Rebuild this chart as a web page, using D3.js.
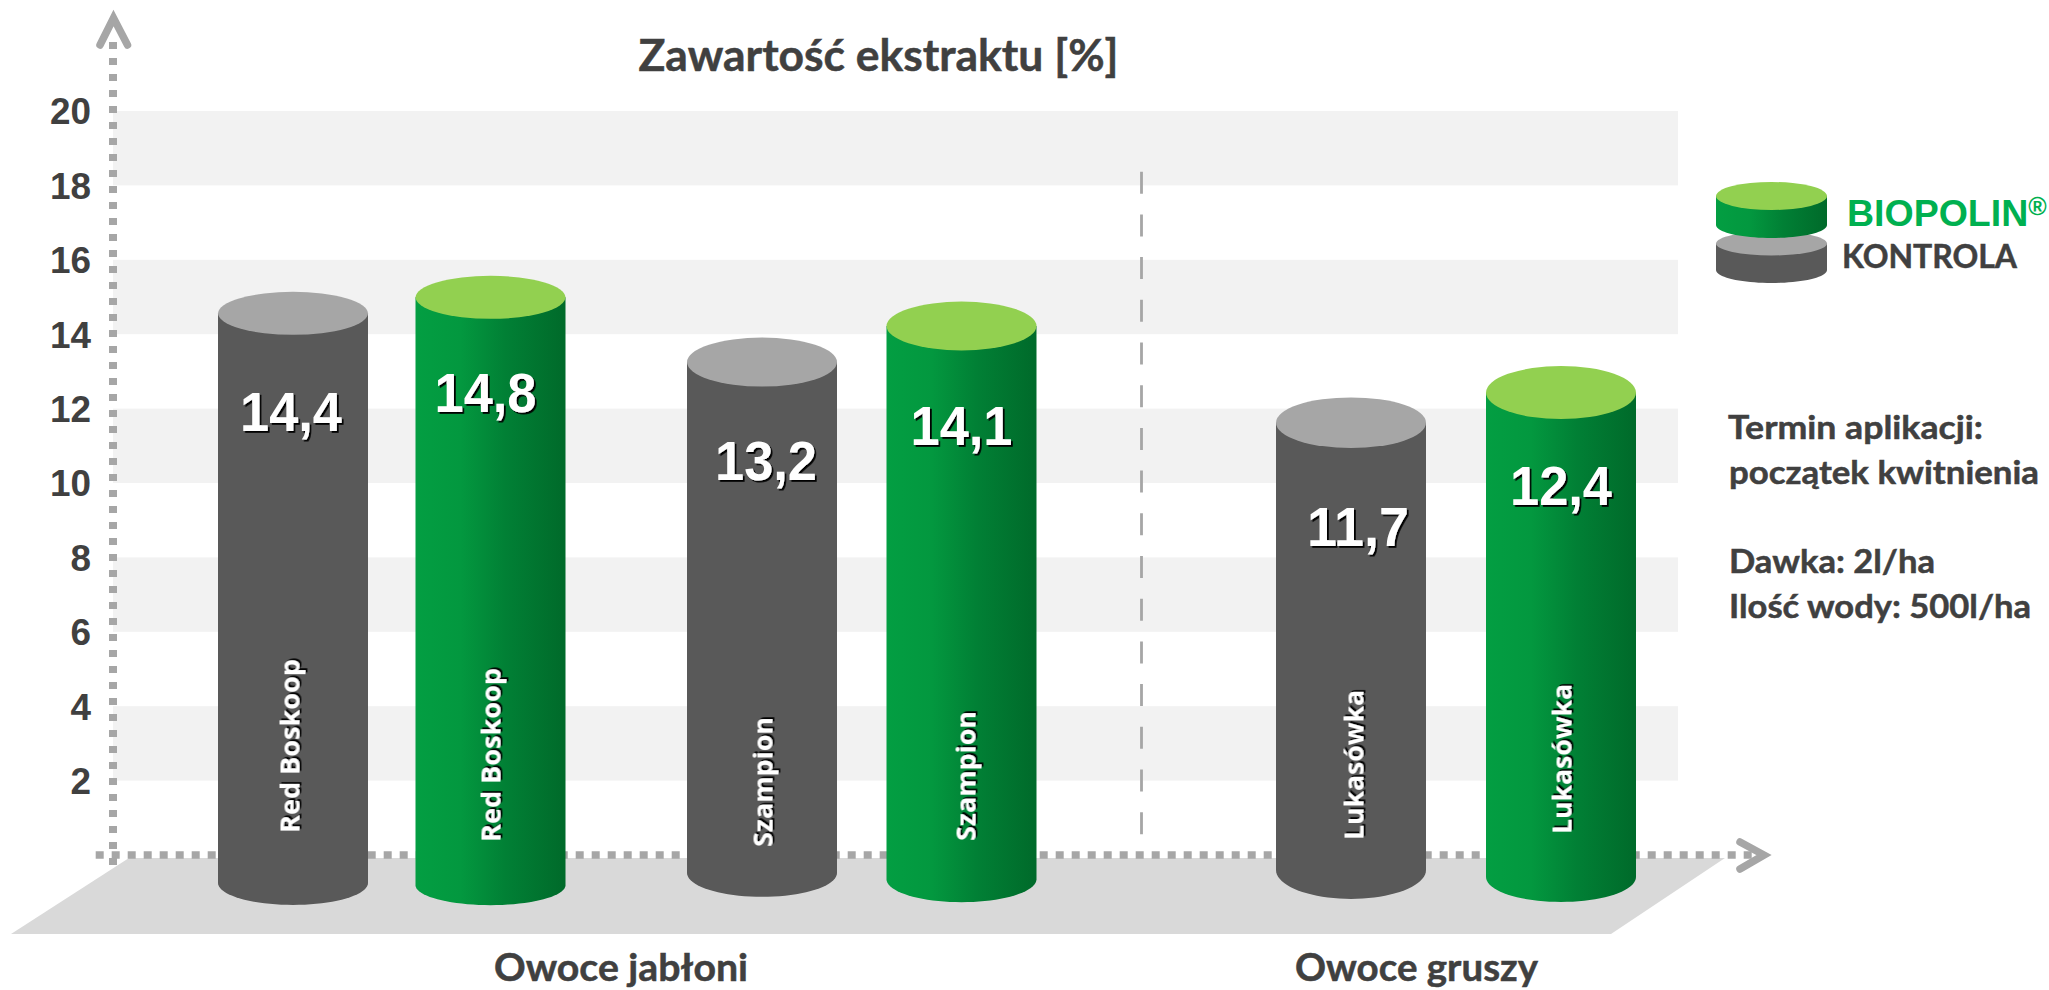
<!DOCTYPE html>
<html lang="pl">
<head>
<meta charset="utf-8">
<title>Zawartość ekstraktu</title>
<script src="https://cdnjs.cloudflare.com/ajax/libs/d3/7.8.5/d3.min.js"></script>
<style>
html,body{margin:0;padding:0;background:#fff;overflow:hidden}
svg{display:block}
</style>
</head>
<body>
<svg id="chart" width="2049" height="990"></svg>
<script>
// ---- data ----
const chartTitle = "Zawartość ekstraktu [%]";
const yTicks = [2,4,6,8,10,12,14,16,18,20];
const bandPairs = [[18,20],[14,16],[10,12],[6,8],[2,4]];
const varieties = ["Red Boskoop","Red Boskoop","Szampion","Szampion","Lukasówka","Lukasówka"];
const series = ["control","biopolin","control","biopolin","control","biopolin"];
const values = [14.4,14.8,13.2,14.1,11.7,12.4];
// where each cylinder's top-centre sits when read against the y axis
const topReadings = [14.56,14.99,13.25,14.22,11.62,12.43];
// where each cylinder's base-ellipse centre sits, read against the same axis
const baseReadings = [-0.75,-0.81,-0.48,-0.65,-0.40,-0.59];
// horizontal slot of each cylinder along the floor
const slots = [0,0.9875,2.345,3.3425,5.29,6.34];
const groupLabels = ["Owoce jabłoni","Owoce gruszy"];
const legendLabels = ["BIOPOLIN","KONTROLA"];
const notes = ["Termin aplikacji:","początek kwitnienia","Dawka: 2l/ha","Ilość wody: 500l/ha"];

// ---- layout and style ----
const C = {text:"#404040",axis:"#a6a6a6",band:"#f2f2f2",floor:"#d9d9d9",gray:"#595959",grayTop:"#a6a6a6",greenTop:"#92d050",brand:"#00b050"};
const sans = "'Liberation Sans',Arial,sans-serif", lato = "Lato,sans-serif", open = "'Open Sans',sans-serif";
const rx = 75;
const topRy = [21.5,21.5,24.5,24.4,25.3,26.5];
const baseRy = [22,20,24,23,29,25];
const valueNudge = [[-2,117.5],[-5,114.5],[4,118],[0,119],[7,123],[0,112.5]];
const nameNudge = [[6.5,833],[10,842],[10.5,847],[14,841],[12.5,840],[10.5,834]];
const nameLength = {"Red Boskoop":174,"Szampion":130,"Lukasówka":150};

const svg = d3.select("#chart");
const y = d3.scaleLinear().domain([0,20]).range([855,111]);
const x = d3.scaleLinear().domain([0,6.34]).range([293,1561]);

const defs = svg.append("defs");
const grad = defs.append("linearGradient").attr("id","green").attr("x1",0).attr("x2",1).attr("y1",0).attr("y2",0);
[[0,"#039e42"],[0.3,"#03983f"],[0.6,"#018035"],[1,"#006a2a"]].forEach(s=>grad.append("stop").attr("offset",s[0]).attr("stop-color",s[1]));
const shadow = defs.append("filter").attr("id","shadow").attr("x","-10%").attr("y","-20%").attr("width","120%").attr("height","140%");
shadow.append("feDropShadow").attr("dx",1.8).attr("dy",1.8).attr("stdDeviation",0.2).attr("flood-color","#000").attr("flood-opacity",1);

// bands
svg.append("g").selectAll("rect").data(bandPairs).join("rect")
  .attr("x",113).attr("width",1565)
  .attr("y",d=>y(d[1])).attr("height",d=>y(d[0])-y(d[1]))
  .attr("fill",C.band);

// floor
svg.append("path").attr("d",d3.line()([[129,858],[1725,858],[1611,934],[11,934]])+"Z").attr("fill",C.floor);

// separator
svg.append("line").attr("x1",1141.5).attr("x2",1141.5).attr("y1",171.7).attr("y2",834.5)
  .attr("stroke",C.axis).attr("stroke-width",2.8).attr("stroke-dasharray","22 20.7");

// axes
svg.append("line").attr("x1",113).attr("x2",113).attr("y1",42).attr("y2",865)
  .attr("stroke",C.axis).attr("stroke-width",8).attr("stroke-dasharray","7 9");
svg.append("line").attr("x1",95.7).attr("x2",1756).attr("y1",855).attr("y2",855)
  .attr("stroke",C.axis).attr("stroke-width",7.5).attr("stroke-dasharray","8 8");
svg.append("path").attr("d",d3.line()([[100,45],[113.5,18],[127.5,45]]))
  .attr("fill","none").attr("stroke",C.axis).attr("stroke-width",7.5).attr("stroke-linecap","round").attr("stroke-linejoin","miter");
svg.append("path").attr("d",d3.line()([[1740,842],[1764,855],[1740,869]]))
  .attr("fill","none").attr("stroke",C.axis).attr("stroke-width",7.5).attr("stroke-linecap","round").attr("stroke-linejoin","miter");

const yAxis = svg.append("g").attr("transform","translate(91,1)")
  .call(d3.axisLeft(y).tickValues(yTicks).tickSize(0).tickPadding(0));
yAxis.select(".domain").remove();
yAxis.selectAll("text").attr("font-family",sans).attr("font-weight",700).attr("font-size",37).attr("fill",C.text)
  .attr("textLength",d=>d>=10?41:20.5).attr("lengthAdjust","spacingAndGlyphs");

// cylinder helper
function cyl(cx,top,end,rxx,ry1,ry2){
  const p = d3.path();
  p.moveTo(cx-rxx,top);
  p.lineTo(cx-rxx,end);
  const n = 40;
  for(let i=1;i<=n;i++){const t=Math.PI*(1-i/n);p.lineTo(cx+rxx*Math.cos(t),end+ry2*Math.sin(t));}
  p.lineTo(cx+rxx,top);
  p.closePath();
  return p.toString();
}

// cylinders
const bars = svg.append("g").selectAll("g").data(values.map((v,i)=>({v,i}))).join("g");
bars.append("path")
  .attr("d",d=>cyl(x(slots[d.i]),y(topReadings[d.i]),y(baseReadings[d.i]),rx,topRy[d.i],baseRy[d.i]))
  .attr("fill",d=>series[d.i]==="control"?C.gray:"url(#green)");
bars.append("ellipse")
  .attr("cx",d=>x(slots[d.i])).attr("cy",d=>y(topReadings[d.i]))
  .attr("rx",rx).attr("ry",d=>topRy[d.i])
  .attr("fill",d=>series[d.i]==="control"?C.grayTop:C.greenTop);
const fmt = v=>d3.format(".1f")(v).replace(".",",");
bars.append("text")
  .attr("x",d=>x(slots[d.i])+valueNudge[d.i][0])
  .attr("y",d=>y(topReadings[d.i])+valueNudge[d.i][1])
  .attr("text-anchor","middle").attr("font-family",sans).attr("font-weight",700).attr("font-size",56)
  .attr("textLength",102).attr("lengthAdjust","spacingAndGlyphs")
  .attr("fill","#fff").attr("filter","url(#shadow)").text(d=>fmt(d.v));
bars.append("text")
  .attr("transform",d=>`translate(${x(slots[d.i])+nameNudge[d.i][0]},${nameNudge[d.i][1]}) rotate(-90)`)
  .attr("font-family",open).attr("font-weight",700).attr("font-size",27)
  .attr("textLength",d=>nameLength[varieties[d.i]]).attr("lengthAdjust","spacingAndGlyphs")
  .attr("fill","#fff").attr("filter","url(#shadow)").text(d=>varieties[d.i]);

// titles
function label(t,xx,yy,size,len,col,fam){
  const el = svg.append("text").attr("x",xx).attr("y",yy).attr("font-family",fam||lato).attr("font-weight",700)
    .attr("font-size",size).attr("fill",col||C.text).attr("stroke",col||C.text).attr("stroke-width",0.5).text(t);
  if(len) el.attr("textLength",len).attr("lengthAdjust","spacingAndGlyphs");
  return el;
}
label(chartTitle,638.5,70.7,44,480);
label(groupLabels[0],494,981,38,254);
label(groupLabels[1],1295,981,38,243);

// legend
const lg = svg.append("g");
lg.append("path").attr("d",cyl(1771.5,243.5,270,55.5,12,13)).attr("fill",C.gray);
lg.append("ellipse").attr("cx",1771.5).attr("cy",243.5).attr("rx",55.5).attr("ry",12).attr("fill",C.grayTop);
lg.append("path").attr("d",cyl(1771.5,196,225,55.5,14,13)).attr("fill","url(#green)");
lg.append("ellipse").attr("cx",1771.5).attr("cy",196).attr("rx",55.5).attr("ry",14).attr("fill",C.greenTop);
const bio = svg.append("text").attr("x",1847).attr("y",226).attr("font-family",sans).attr("font-weight",700).attr("font-size",37.5).attr("fill",C.brand);
bio.append("tspan").text(legendLabels[0]);
bio.append("tspan").attr("font-size",25).attr("dy",-11).text("®");
label(legendLabels[1],1842,268,33,175);

// notes
label(notes[0],1728,439,33,255);
label(notes[1],1729,484,33,310);
label(notes[2],1729,573,33,206);
label(notes[3],1729,618,33,302);
</script>
</body>
</html>
